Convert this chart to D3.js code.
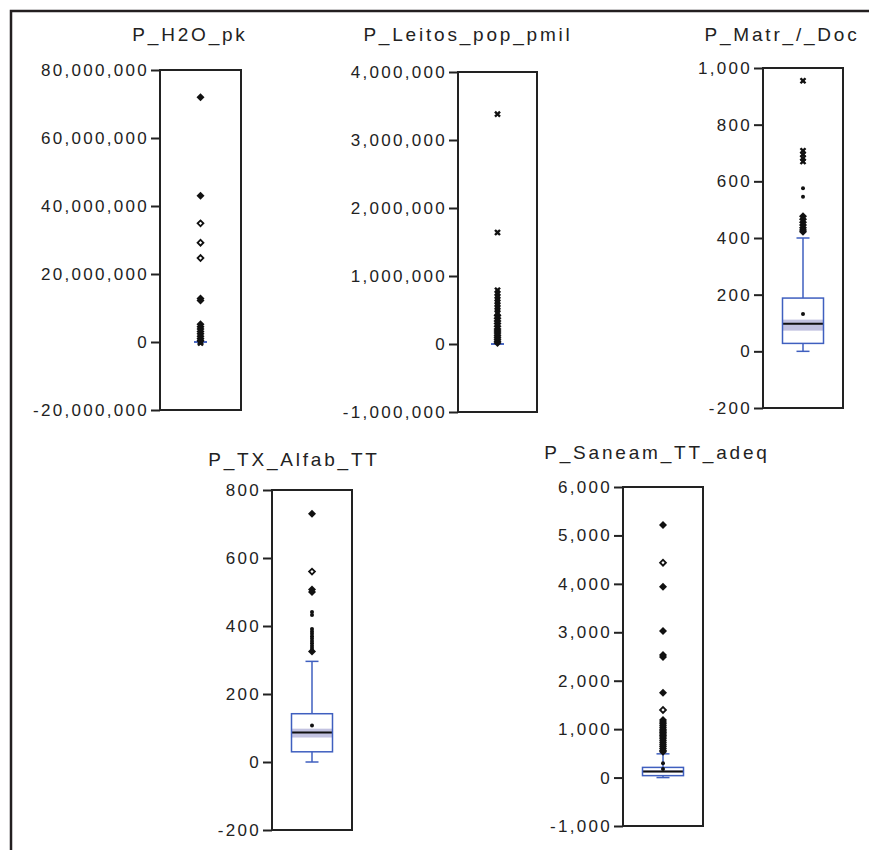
<!DOCTYPE html>
<html>
<head>
<meta charset="utf-8">
<script src="https://cdn.jsdelivr.net/npm/d3@7"></script>
<style>
  body { margin: 0; background: #fff; }
  text { font-family: "Liberation Sans", Arial, sans-serif; fill: #222; }
</style>
</head>
<body>
<script>
// one entry per variable
var titles = ["P_H2O_pk", "P_Leitos_pop_pmil", "P_Matr_/_Doc", "P_TX_Alfab_TT", "P_Saneam_TT_adeq"];
var yMin = [-20000000, -1000000, -200, -200, -1000];
var yMax = [80000000, 4000000, 1000, 800, 6000];
var tickStep = [20000000, 1000000, 200, 200, 1000];

// box statistics
var whiskLo = [0, 0, 0, 0, 0];
var q1 = [0, 0, 28, 30, 40];
var medians = [0, 0, 97, 87, 125];
var q3 = [0, 0, 188, 142, 210];
var whiskHi = [0, 0, 400, 296, 490];
var ciLo = [0, 0, 73, 72, 105];
var ciHi = [0, 0, 112, 98, 150];
var means = [null, null, 132, 107, 175];

// outliers, by marker kind
var h2oFilled = [72000000, 43000000, 12800000, 12200000, 5200000, 4500000, 3800000, 3100000, 2400000, 1700000, 1000000, 400000];
var h2oOpen = [34900000, 29200000, 24700000];
var h2oCross = [100000, -300000];
var h2oDot = [];

var leitosFilled = [420000, 380000, 340000, 300000, 260000, 220000, 190000, 160000, 130000, 100000, 70000, 40000, 15000];
var leitosOpen = [];
var leitosCross = [3380000, 1640000, 790000, 745000, 700000, 660000, 620000, 580000, 540000, 500000, 460000];
var leitosDot = [];

var matrFilled = [477, 466, 456, 446, 436, 428, 422];
var matrOpen = [];
var matrCross = [955, 708, 695, 682, 670];
var matrDot = [576, 546];

var alfabFilled = [730, 507, 500, 325];
var alfabOpen = [560];
var alfabCross = [];
var alfabDot = [441, 432, 391, 384, 377, 370, 363, 356, 349, 342, 335, 328];

var saneamFilled = [5215, 3942, 3027, 2530, 2490, 1753, 1190, 1150, 1110, 1070, 1030, 990, 960, 930, 900, 870, 840, 800, 760, 720, 680, 640, 600, 560, 535];
var saneamOpen = [4437, 1396];
var saneamCross = [];
var saneamDot = [295];

var filled = [h2oFilled, leitosFilled, matrFilled, alfabFilled, saneamFilled];
var open = [h2oOpen, leitosOpen, matrOpen, alfabOpen, saneamOpen];
var cross = [h2oCross, leitosCross, matrCross, alfabCross, saneamCross];
var dots = [h2oDot, leitosDot, matrDot, alfabDot, saneamDot];

var fmt = d3.formatLocale({ decimal: ".", thousands: ",", grouping: [3], currency: ["", ""], minus: "-" }).format(",");

var CHART = {
  // plot frames [x0, y0, x1, y1] and title anchors [x, baseline]
  frames: [[160, 70, 241, 410], [458, 72, 537, 412], [763, 68, 843, 408], [272, 490, 352, 830], [623, 487, 703, 826]],
  titlePos: [[190, 41], [468, 41], [782, 41], [294, 466], [657, 459]],

  init: function() {
    var svg = d3.select("body")
      .append("svg")
      .attr("width", 869)
      .attr("height", 850);

    // outer frame (top and left edges only)
    svg.append("path")
      .attr("d", "M11,850 L11,11 L869,11")
      .attr("fill", "none")
      .attr("stroke", "#231f20")
      .attr("stroke-width", 2.5);

    for (var i = 0; i < titles.length; i++) {
      this.buildPanel(svg, i);
    }
  },

  buildPanel: function(svg, i) {
    var f = this.frames[i];
    var g = svg.append("g");
    var blue = "#3f5fbf";

    var y = d3.scaleLinear()
      .domain([yMin[i], yMax[i]])
      .range([f[3], f[1]]);

    var x = d3.scaleLinear()
      .domain([-1, 1])
      .range([f[0], f[2]]);
    var cx = x(0);
    var bw = 20.5;
    var cap = 6.5;

    g.append("rect")
      .attr("x", f[0])
      .attr("y", f[1])
      .attr("width", f[2] - f[0])
      .attr("height", f[3] - f[1])
      .attr("fill", "#fff")
      .attr("stroke", "#222")
      .attr("stroke-width", 2);

    var ticks = d3.range(yMin[i], yMax[i] + tickStep[i] / 2, tickStep[i]);
    var axis = g.append("g")
      .attr("transform", "translate(" + f[0] + ",0)")
      .call(d3.axisLeft(y).tickValues(ticks).tickFormat(fmt).tickSize(9).tickPadding(2));
    axis.select(".domain").remove();
    axis.selectAll(".tick line").attr("stroke", "#222").attr("stroke-width", 2);
    axis.selectAll(".tick text")
      .attr("fill", "#1a1a1a")
      .attr("font-size", "17px")
      .attr("letter-spacing", "2.3px")
      .attr("font-family", "'Liberation Sans', Arial, sans-serif");

    g.append("text")
      .text(titles[i])
      .attr("x", this.titlePos[i][0])
      .attr("y", this.titlePos[i][1])
      .attr("text-anchor", "middle")
      .attr("font-size", "19px")
      .attr("letter-spacing", "2.8px");

    // whiskers
    g.append("line")
      .attr("x1", cx).attr("x2", cx)
      .attr("y1", y(whiskHi[i])).attr("y2", y(q3[i]))
      .attr("stroke", blue).attr("stroke-width", 1.5);
    g.append("line")
      .attr("x1", cx).attr("x2", cx)
      .attr("y1", y(q1[i])).attr("y2", y(whiskLo[i]))
      .attr("stroke", blue).attr("stroke-width", 1.5);
    [whiskHi[i], whiskLo[i]].forEach(function(v) {
      g.append("line")
        .attr("x1", cx - cap).attr("x2", cx + cap)
        .attr("y1", y(v)).attr("y2", y(v))
        .attr("stroke", blue).attr("stroke-width", 1.5);
    });

    // median confidence band
    if (ciHi[i] > ciLo[i]) {
      g.append("rect")
        .attr("x", cx - bw)
        .attr("y", y(ciHi[i]))
        .attr("width", bw * 2)
        .attr("height", y(ciLo[i]) - y(ciHi[i]))
        .attr("fill", "#c2c2e0");
    }

    if (q3[i] > q1[i]) {
      g.append("line")
        .attr("x1", cx - bw).attr("x2", cx + bw)
        .attr("y1", y(medians[i])).attr("y2", y(medians[i]))
        .attr("stroke", "#111").attr("stroke-width", 2);
    }

    g.append("rect")
      .attr("x", cx - bw)
      .attr("y", y(q3[i]))
      .attr("width", bw * 2)
      .attr("height", Math.max(0, y(q1[i]) - y(q3[i])))
      .attr("fill", "none")
      .attr("stroke", blue)
      .attr("stroke-width", 1.5);

    if (means[i] !== null) {
      g.append("circle")
        .attr("cx", cx)
        .attr("cy", y(means[i]))
        .attr("r", 2)
        .attr("fill", "#111");
    }

    var diamond = d3.symbol().type(d3.symbolSquare).size(32);
    var hollow = d3.symbol().type(d3.symbolSquare).size(17);
    var xmark = d3.symbol().type(d3.symbolCross).size(28);

    g.selectAll(".filled")
      .data(filled[i])
      .enter()
      .append("path")
      .attr("d", diamond)
      .attr("transform", function(d) { return "translate(" + cx + "," + y(d) + ") rotate(45)"; })
      .attr("fill", "#111");

    g.selectAll(".open")
      .data(open[i])
      .enter()
      .append("path")
      .attr("d", hollow)
      .attr("transform", function(d) { return "translate(" + cx + "," + y(d) + ") rotate(45)"; })
      .attr("fill", "#fff")
      .attr("stroke", "#111")
      .attr("stroke-width", 1.8);

    g.selectAll(".cross")
      .data(cross[i])
      .enter()
      .append("path")
      .attr("d", xmark)
      .attr("transform", function(d) { return "translate(" + cx + "," + y(d) + ") rotate(45)"; })
      .attr("fill", "#111");

    g.selectAll(".dot")
      .data(dots[i])
      .enter()
      .append("circle")
      .attr("cx", cx)
      .attr("cy", function(d) { return y(d); })
      .attr("r", 2)
      .attr("fill", "#111");
  }
};

CHART.init();
</script>
</body>
</html>
